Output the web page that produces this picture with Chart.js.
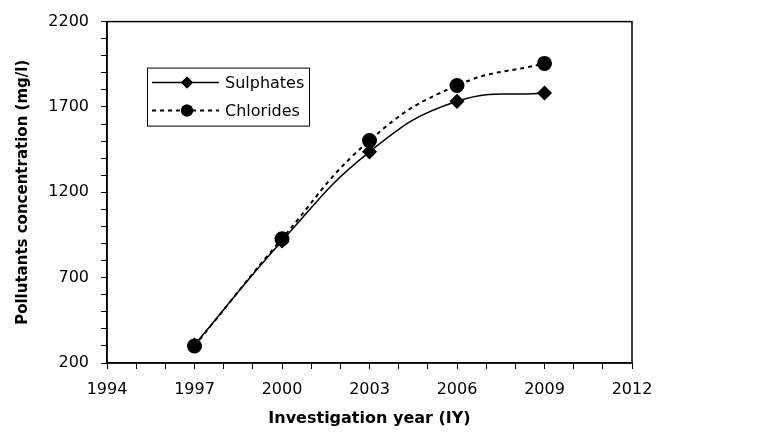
<!DOCTYPE html>
<html>
<head>
<meta charset="utf-8">
<script src="https://cdn.jsdelivr.net/npm/chart.js@4"></script>
<style>
  html, body { margin: 0; padding: 0; background: #fff; }
  canvas { display: block; }
</style>
</head>
<body>
<canvas id="myChart" width="768" height="434"></canvas>
<script>
// data
const years = [1997, 2000, 2003, 2006, 2009];
const sulphates = [305, 915, 1437, 1733, 1782];
const chlorides = [300, 928, 1503, 1826, 1955];

// axes
const xTicks = [1994, 1995, 1996, 1997, 1998, 1999, 2000, 2001, 2002, 2003, 2004, 2005, 2006, 2007, 2008, 2009, 2010, 2011, 2012];
const xLabels = [1994, 1997, 2000, 2003, 2006, 2009, 2012];
const yTicks = [200, 300, 400, 500, 600, 700, 800, 900, 1000, 1100, 1200, 1300, 1400, 1500, 1600, 1700, 1800, 1900, 2000, 2100, 2200];
const yLabels = [200, 700, 1200, 1700, 2200];

const FONT = 'DejaVu Sans';

const toPoints = (vals) => years.map((y, i) => ({ x: y, y: vals[i] }));

// box round the plot area
const frame = {
  id: 'frame',
  afterDraw(chart) {
    const { ctx, chartArea: a } = chart;
    ctx.save();
    ctx.strokeStyle = '#000';
    ctx.lineWidth = 1.5;
    ctx.strokeRect(a.left, a.top, a.right - a.left, a.bottom - a.top);
    ctx.restore();
  }
};

// legend box inside the plot
const boxLegend = {
  id: 'boxLegend',
  afterDraw(chart) {
    const { ctx, chartArea: a } = chart;
    const bx = a.left + 40, by = a.top + 46, bw = 162, bh = 58;
    ctx.save();
    ctx.fillStyle = '#fff';
    ctx.fillRect(bx, by, bw, bh);
    ctx.strokeStyle = '#000';
    ctx.lineWidth = 1;
    ctx.strokeRect(bx + 0.5, by + 0.5, bw, bh);
    chart.data.datasets.forEach((ds, i) => {
      const ry = by + 15 + i * 28;
      ctx.beginPath();
      ctx.setLineDash(ds.borderDash || []);
      ctx.lineWidth = ds.borderWidth;
      ctx.moveTo(bx + 5, ry);
      ctx.lineTo(bx + 72, ry);
      ctx.stroke();
      ctx.setLineDash([]);
      ctx.fillStyle = '#000';
      Chart.helpers.drawPoint(ctx, { pointStyle: ds.pointStyle, radius: ds.pointRadius - 0.5, borderWidth: 0 }, bx + 40, ry);
      ctx.fill();
      ctx.font = '16px "' + FONT + '"';
      ctx.textBaseline = 'middle';
      ctx.fillText(ds.label, bx + 78, ry + 1);
    });
    ctx.restore();
  }
};

const Pollutants = new Chart(document.getElementById('myChart'), {
  type: 'line',
  data: {
    datasets: [{
      label: 'Sulphates',
      data: toPoints(sulphates),
      borderColor: '#000',
      backgroundColor: '#000',
      borderWidth: 1.5,
      pointStyle: 'rectRot',
      pointRadius: 6.5,
      pointHoverRadius: 6.5,
      tension: 0.45
    }, {
      label: 'Chlorides',
      data: toPoints(chlorides),
      borderColor: '#000',
      backgroundColor: '#000',
      borderWidth: 2,
      borderDash: [4, 4],
      pointStyle: 'circle',
      pointRadius: 6.5,
      pointHoverRadius: 6.5,
      tension: 0.45
    }]
  },
  options: {
    responsive: false,
    animation: false,
    layout: { padding: { top: 16, right: 136, left: 0, bottom: 0 } },
    plugins: {
      legend: { display: false },
      tooltip: { enabled: false }
    },
    scales: {
      x: {
        type: 'linear',
        min: 1994,
        max: 2012,
        afterBuildTicks: (s) => { s.ticks = xTicks.map(v => ({ value: v })); },
        afterFit: (s) => { s.height = 71; },
        grid: { drawOnChartArea: false, color: '#000', tickLength: 6, lineWidth: 1 },
        border: { color: '#000', width: 1.5 },
        ticks: {
          autoSkip: false,
          maxRotation: 0,
          padding: 11,
          color: '#000',
          font: { family: FONT, size: 16 },
          callback: (v) => xLabels.includes(v) ? String(v) : ''
        },
        title: {
          display: true,
          text: 'Investigation year (IY)',
          color: '#000',
          font: { family: FONT, size: 16, weight: 'bold', lineHeight: 1.2 },
          padding: { top: 0, bottom: 6 }
        }
      },
      y: {
        min: 200,
        max: 2200,
        afterBuildTicks: (s) => { s.ticks = yTicks.map(v => ({ value: v })); },
        afterFit: (s) => { s.width = 107; },
        grid: { drawOnChartArea: false, color: '#000', tickLength: 6, lineWidth: 1 },
        border: { color: '#000', width: 1.5 },
        ticks: {
          autoSkip: false,
          padding: 12,
          color: '#000',
          font: { family: FONT, size: 16 },
          callback: (v) => yLabels.includes(v) ? String(v) : ''
        },
        title: {
          display: true,
          text: 'Pollutants concentration (mg/l)',
          color: '#000',
          font: { family: FONT, size: 15, weight: 'bold', lineHeight: 1.2 },
          padding: { top: 14, bottom: 0 }
        }
      }
    }
  },
  plugins: [frame, boxLegend]
});
</script>
</body>
</html>
